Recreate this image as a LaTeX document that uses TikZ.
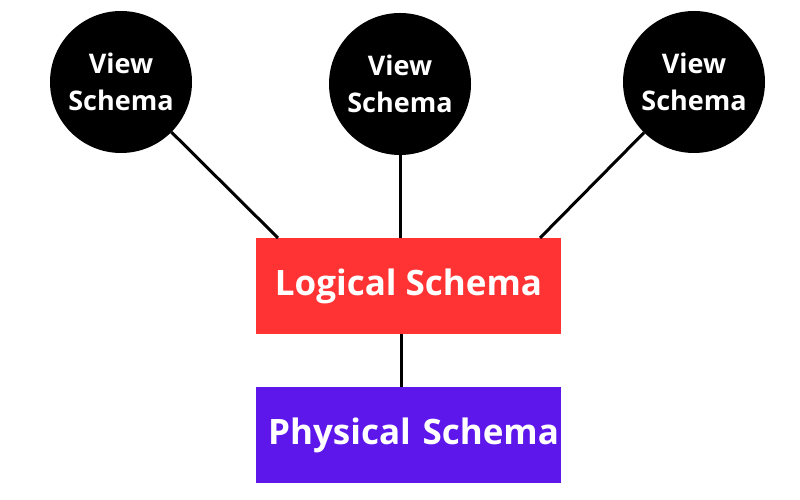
\documentclass[tikz,border=0pt]{standalone}
\usepackage{fontspec}
\setmainfont{Open Sans}
\usetikzlibrary{positioning}
\definecolor{logred}{RGB}{255,51,51}
\definecolor{phypurple}{RGB}{94,23,235}

\begin{document}
\begin{tikzpicture}[x=1pt,y=1pt,
  viewnode/.style={circle, fill=black, minimum size=142pt, inner sep=0pt, text=white,
    font=\fontsize{27}{37}\selectfont\bfseries, align=center},
  schemabox/.style={minimum width=305pt, minimum height=96pt, inner sep=0pt, text=white,
    font=\fontsize{35}{40}\selectfont\bfseries},
  link/.style={line width=3pt}]
  \fill[white] (0,0) rectangle (800,500);
  \useasboundingbox (0,0) rectangle (800,500);
  \node (v1) [viewnode] at (121,418) {View\\Schema};
  \node (v2) [viewnode] at (400,416) {View\\Schema};
  \node (v3) [viewnode] at (694,418) {View\\Schema};
  \node (logical) [schemabox, fill=logred] at (408.5,214) {Logical Schema};
  \node (physical) [schemabox, fill=phypurple, text width=301pt, align=right, inner xsep=2pt]
    at (408.5,64.5) {Physical Schema};
  \coordinate (l1) at (278,262);
  \coordinate (l2) at (400,262);
  \coordinate (l3) at (540,262);
  \coordinate (l4) at (401,166);
  \coordinate (p4) at (401,113);
  \path[link]
  (v1) edge (l1)
  (v2) edge (l2)
  (v3) edge (l3)
  (l4) edge (p4)
;
\end{tikzpicture}
\end{document}
